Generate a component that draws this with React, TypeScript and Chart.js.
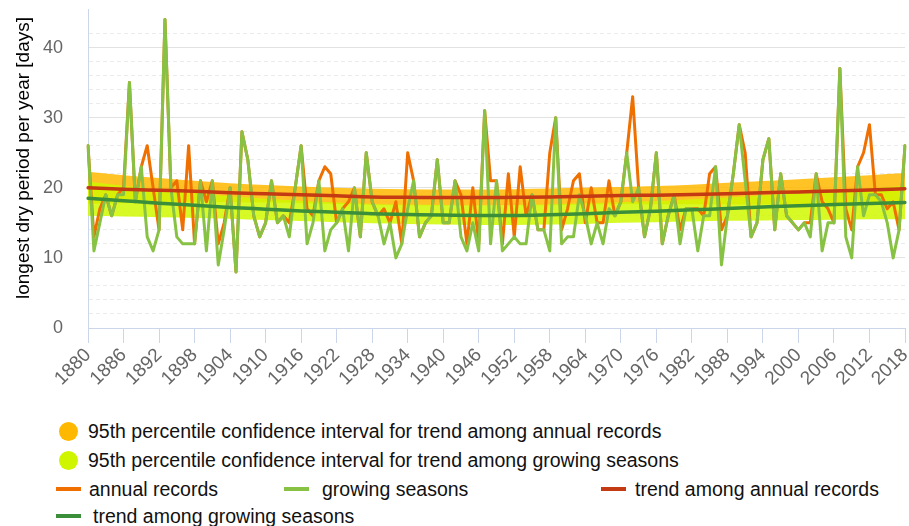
import React, { useEffect, useRef } from 'react';
import { Chart, registerables } from 'chart.js';

Chart.register(...registerables);

const FONT = "'Liberation Sans', Arial, sans-serif";

const years: string[] = Array.from({ length: 139 }, (_, i) => String(1880 + i));

const annualRecords = [
  26, 13, 17, 19, 16, 19, 20, 35, 18, 23, // 1880s
  26, 20, 14, 44, 20, 21, 14, 26, 12, 21, // 1890s
  18, 21, 12, 15, 20, 8, 28, 24, 16, 13, // 1900s
  15, 21, 15, 16, 15, 20, 26, 17, 16, 21, // 1910s
  23, 22, 15, 17, 18, 20, 13, 25, 18, 16, // 1920s
  17, 15, 18, 12, 25, 21, 13, 15, 16, 24, // 1930s
  15, 15, 21, 19, 12, 20, 12, 31, 21, 21, // 1940s
  12, 22, 13, 23, 16, 19, 14, 14, 25, 30, // 1950s
  14, 17, 21, 22, 15, 20, 15, 15, 21, 16, // 1960s
  18, 25, 33, 20, 13, 17, 25, 12, 16, 19, // 1970s
  14, 17, 17, 17, 16, 22, 23, 14, 16, 22, // 1980s
  29, 25, 13, 15, 24, 27, 14, 22, 16, 15, // 1990s
  14, 15, 15, 22, 18, 17, 15, 37, 17, 14, // 2000s
  23, 25, 29, 19, 19, 17, 18, 14, 26, // 2010s
];

const growingSeasons = [
  26, 11, 15, 19, 16, 19, 19, 35, 18, 23,
  13, 11, 14, 44, 20, 13, 12, 12, 12, 21,
  11, 21, 9, 14, 20, 8, 28, 24, 16, 13,
  15, 21, 15, 16, 13, 20, 26, 12, 15, 21,
  11, 14, 15, 17, 11, 20, 13, 25, 18, 16,
  12, 15, 10, 12, 17, 21, 13, 15, 16, 24,
  15, 15, 21, 13, 11, 15, 11, 31, 12, 21,
  11, 12, 13, 12, 12, 19, 14, 14, 11, 30,
  12, 13, 13, 19, 16, 12, 15, 12, 17, 16,
  18, 25, 18, 20, 13, 17, 25, 12, 16, 19,
  12, 17, 17, 11, 16, 16, 23, 9, 16, 22,
  29, 21, 13, 15, 24, 27, 14, 22, 16, 15,
  14, 15, 13, 22, 11, 15, 15, 37, 13, 10,
  23, 16, 19, 19, 18, 15, 10, 14, 26,
];

const trendYears = [
  '1880', '1886', '1892', '1898', '1904', '1910', '1916', '1922', '1928', '1934', '1940', '1946',
  '1952', '1958', '1964', '1970', '1976', '1982', '1988', '1994', '2000', '2006', '2012', '2018',
];

const annualTrend = [
  20.0, 19.8, 19.65, 19.5, 19.3, 19.15, 19.0, 18.85, 18.7, 18.65, 18.6, 18.6,
  18.65, 18.7, 18.8, 18.9, 18.95, 19.05, 19.15, 19.3, 19.4, 19.55, 19.7, 19.85,
];
const annualCiUpper = [
  22.3, 21.8, 21.4, 21.0, 20.65, 20.4, 20.2, 20.0, 19.85, 19.8, 19.75, 19.75,
  19.8, 19.9, 20.0, 20.1, 20.25, 20.45, 20.7, 20.95, 21.2, 21.5, 21.8, 22.1,
];
const annualCiLower = [
  17.7, 17.8, 17.9, 18.0, 17.95, 17.9, 17.8, 17.7, 17.55, 17.5, 17.45, 17.45,
  17.5, 17.5, 17.6, 17.7, 17.65, 17.65, 17.6, 17.65, 17.6, 17.6, 17.6, 17.6,
];
const growingTrend = [
  18.5, 18.15, 17.8, 17.5, 17.2, 16.95, 16.7, 16.5, 16.3, 16.2, 16.1, 16.05,
  16.05, 16.15, 16.3, 16.5, 16.65, 16.85, 17.05, 17.25, 17.45, 17.6, 17.75, 17.9,
];
const growingCiUpper = [
  20.9, 20.3, 19.75, 19.25, 18.8, 18.45, 18.15, 17.9, 17.7, 17.6, 17.55, 17.5,
  17.55, 17.65, 17.8, 17.95, 18.1, 18.35, 18.6, 18.9, 19.2, 19.55, 19.9, 20.3,
];
const growingCiLower = [
  16.0, 15.9, 15.8, 15.7, 15.6, 15.4, 15.25, 15.1, 14.95, 14.85, 14.75, 14.7,
  14.7, 14.75, 14.85, 15.0, 15.1, 15.2, 15.3, 15.35, 15.4, 15.45, 15.5, 15.5,
];

const yAxisTitle = 'longest dry period per year [days]';
const legendLabels = [
  '95th percentile confidence interval for trend among annual records',
  '95th percentile confidence interval for trend among growing seasons',
  'annual records',
  'growing seasons',
  'trend among annual records',
  'trend among growing seasons',
];

const COLORS = {
  annualBand: 'rgba(255,184,0,0.85)',
  growBand: 'rgba(208,248,0,0.85)',
  annualDot: '#ffb800',
  growDot: '#d0f500',
  annual: '#ef7000',
  growing: '#88c244',
  annualTrend: '#c43a12',
  growTrend: '#3b8f3b',
};

const pts = (vals: number[]) => trendYears.map((x, i) => ({ x, y: vals[i] }));

const yTitlePlugin = {
  id: 'yTitlePlugin',
  afterDraw(chart: any) {
    const ctx = chart.ctx;
    ctx.save();
    ctx.translate(23.5, 158);
    ctx.rotate(-Math.PI / 2);
    ctx.font = `19px ${FONT}`;
    ctx.fillStyle = '#000';
    ctx.textAlign = 'center';
    ctx.textBaseline = 'middle';
    ctx.fillText(yAxisTitle, 0, 0);
    ctx.restore();
  },
};

export default function App() {
  const ref = useRef<HTMLCanvasElement>(null);

  useEffect(() => {
    const band = {
      borderWidth: 0,
      pointRadius: 0,
      cubicInterpolationMode: 'monotone' as const,
    };
    const line = {
      pointRadius: 0,
      borderJoinStyle: 'round' as const,
      borderCapStyle: 'round' as const,
      fill: false,
    };
    const chart = new Chart(ref.current!, {
      type: 'line',
      data: {
        labels: years,
        datasets: [
          { ...band, label: legendLabels[0], data: pts(annualCiUpper) as any, fill: '+1', backgroundColor: COLORS.annualBand, order: 5 },
          { ...band, label: 'annual CI lower', data: pts(annualCiLower) as any, fill: false, order: 5 },
          { ...band, label: legendLabels[1], data: pts(growingCiUpper) as any, fill: '+1', backgroundColor: COLORS.growBand, order: 4 },
          { ...band, label: 'growing CI lower', data: pts(growingCiLower) as any, fill: false, order: 4 },
          { ...line, label: legendLabels[2], data: annualRecords, borderColor: COLORS.annual, borderWidth: 3, order: 3 },
          { ...line, label: legendLabels[3], data: growingSeasons, borderColor: COLORS.growing, borderWidth: 3, order: 2 },
          { ...line, label: legendLabels[4], data: pts(annualTrend) as any, borderColor: COLORS.annualTrend, borderWidth: 3.5, cubicInterpolationMode: 'monotone', order: 1 },
          { ...line, label: legendLabels[5], data: pts(growingTrend) as any, borderColor: COLORS.growTrend, borderWidth: 3.5, cubicInterpolationMode: 'monotone', order: 0 },
        ],
      },
      options: {
        animation: false,
        responsive: false,
        devicePixelRatio: 1,
        layout: { padding: { left: 0, right: 4, top: 9, bottom: 0 } },
        plugins: { legend: { display: false }, tooltip: { enabled: false } },
        font: { family: FONT },
        scales: {
          x: {
            type: 'category',
            offset: false,
            grid: {
              drawOnChartArea: false,
              drawTicks: true,
              tickLength: 15,
              color: 'rgba(0,0,0,0)',
              tickColor: (c: any) => (c.index % 6 === 0 ? '#ccd6eb' : 'rgba(0,0,0,0)'),
            },
            border: { display: true, color: '#ccd6eb', width: 1 },
            ticks: {
              autoSkip: false,
              minRotation: 45,
              maxRotation: 45,
              padding: 1,
              color: '#666',
              font: { family: FONT, size: 19 },
              callback: (_v: any, i: number) => (i % 6 === 0 ? years[i] : ''),
            },
            afterFit: (s: any) => {
              s.height = 82;
              s.paddingLeft = 0;
              s.paddingRight = 0;
              s.paddingTop = 0;
              s.paddingBottom = 0;
            },
          },
          y: {
            min: 0,
            max: 45.5,
            grid: {
              drawTicks: false,
              lineWidth: 1,
              color: (c: any) => {
                const v = c.tick ? c.tick.value : 1;
                if (v % 10 === 0) return '#e2e2e2';
                if (v % 2 === 0) return '#ebebeb';
                return 'rgba(0,0,0,0)';
              },
            },
            border: {
              display: true,
              color: '#ccd6eb',
              width: 1,
              dash: (c: any) => (c.tick && c.tick.value % 10 !== 0 ? [4, 3] : []),
            } as any,
            ticks: {
              stepSize: 2,
              autoSkip: false,
              padding: 25,
              color: '#666',
              font: { family: FONT, size: 18 },
              callback: (v: any) => (Number(v) % 10 === 0 ? String(v) : ''),
            },
            afterFit: (s: any) => {
              s.width = 88;
              s.paddingLeft = 0;
              s.paddingRight = 0;
              s.paddingTop = 0;
              s.paddingBottom = 0;
            },
          },
        },
      } as any,
      plugins: [yTitlePlugin],
    });
    return () => chart.destroy();
  }, []);

  const text: React.CSSProperties = {
    position: 'absolute',
    fontFamily: FONT,
    fontSize: '19.5px',
    lineHeight: '22px',
    color: '#111',
    whiteSpace: 'nowrap',
  };
  const dot = (cx: number, cy: number, color: string): React.CSSProperties => ({
    position: 'absolute',
    left: cx - 9.5,
    top: cy - 9.5,
    width: 19,
    height: 19,
    borderRadius: '50%',
    background: color,
  });
  const dash = (x: number, cy: number, color: string): React.CSSProperties => ({
    position: 'absolute',
    left: x,
    top: cy - 2,
    width: 25,
    height: 4,
    background: color,
  });

  return (
    <div style={{ position: 'absolute', left: 0, top: 0, width: 909, height: 526, background: '#fff', overflow: 'hidden' }}>
      <canvas ref={ref} width={909} height={410} style={{ position: 'absolute', left: 0, top: 0, width: 909, height: 410 }} />
      <div style={dot(68, 431, COLORS.annualDot)} />
      <div style={{ ...text, left: 88, top: 420 }}>{legendLabels[0]}</div>
      <div style={dot(68, 460, COLORS.growDot)} />
      <div style={{ ...text, left: 88, top: 449 }}>{legendLabels[1]}</div>
      <div style={dash(56, 489, COLORS.annual)} />
      <div style={{ ...text, left: 89, top: 478 }}>{legendLabels[2]}</div>
      <div style={dash(284, 489, COLORS.growing)} />
      <div style={{ ...text, left: 322, top: 478 }}>{legendLabels[3]}</div>
      <div style={dash(601, 489, COLORS.annualTrend)} />
      <div style={{ ...text, left: 635, top: 478 }}>{legendLabels[4]}</div>
      <div style={dash(56, 516, COLORS.growTrend)} />
      <div style={{ ...text, left: 93, top: 505 }}>{legendLabels[5]}</div>
    </div>
  );
}
